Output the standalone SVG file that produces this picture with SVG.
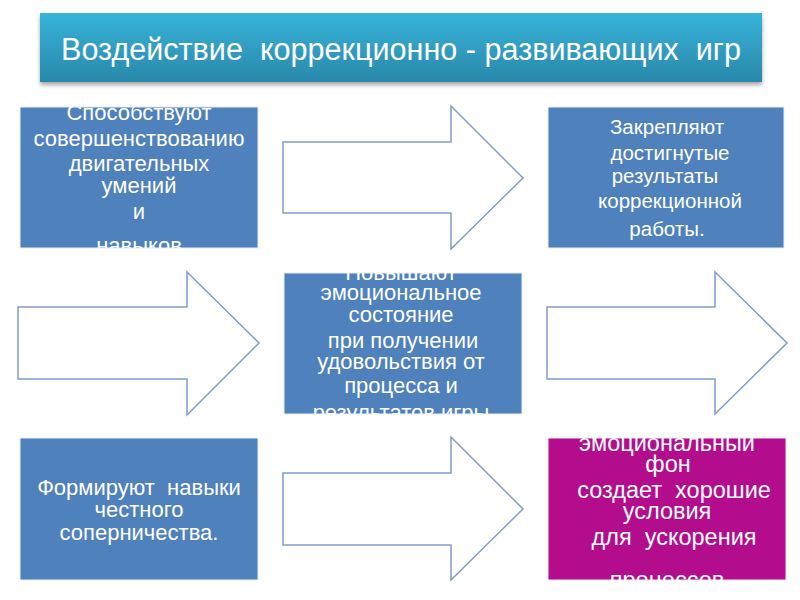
<svg xmlns="http://www.w3.org/2000/svg" width="800" height="600" viewBox="0 0 800 600">
<defs>
<linearGradient id="tg" x1="0" y1="0" x2="0" y2="1">
<stop offset="0" stop-color="#37B3DA"/>
<stop offset="1" stop-color="#2A88AA"/>
</linearGradient>
<filter id="sh" x="-5%" y="-20%" width="110%" height="150%">
<feGaussianBlur in="SourceAlpha" stdDeviation="2"/>
<feOffset dy="3"/>
<feComponentTransfer><feFuncA type="linear" slope="0.35"/></feComponentTransfer>
<feMerge><feMergeNode/><feMergeNode in="SourceGraphic"/></feMerge>
</filter>
<clipPath id="c1"><rect x="20" y="107" width="238" height="141"/></clipPath>
<clipPath id="c2"><rect x="548" y="107" width="236" height="141"/></clipPath>
<clipPath id="c3"><rect x="284" y="273" width="238" height="141"/></clipPath>
<clipPath id="c4"><rect x="20" y="438" width="238" height="142"/></clipPath>
<clipPath id="c5"><rect x="548" y="438" width="238" height="142"/></clipPath>
</defs>
<style>
.box{fill:#4F81BD;stroke:#E8EEF6;stroke-width:1}
.mag{fill:#B30D8E;stroke:#E8EEF6;stroke-width:1}
.t{font-family:"Liberation Sans",Arial,sans-serif;fill:#FFFFFF;text-anchor:middle;white-space:pre}
.s20{font-size:20.5px}
.s22{font-size:22px}
.s24{font-size:23.5px}
.arr{fill:#FFFFFF;stroke:#7F9CCB;stroke-width:1.5;stroke-linejoin:miter}
</style>
<rect width="800" height="600" fill="#FFFFFF"/>

<g id="title">
<rect x="40" y="13" width="722" height="69" fill="url(#tg)" filter="url(#sh)"/>
<text class="t" x="401" y="60" font-size="31" textLength="680" lengthAdjust="spacingAndGlyphs" xml:space="preserve">Воздействие  коррекционно - развивающих  игр</text>
</g>

<g id="connectors">
<polygon id="arrow1" class="arr" points="283,142 451,142 451,106 523,178 451,249 451,213 283,213"/>
<polygon id="arrow2" class="arr" points="18,307 187,307 187,272 259,343 187,415 187,379 18,379"/>
<polygon id="arrow3" class="arr" points="547,307 715,307 715,272 787,343 715,414 715,379 547,379"/>
<polygon id="arrow4" class="arr" points="283,473 451,473 451,437 523,509 451,580 451,545 283,545"/>
</g>

<g id="node1">
<rect class="box" x="20" y="107" width="238" height="141"/>
<g clip-path="url(#c1)" class="t s22">
<text x="139" y="120">Способствуют</text>
<text x="139" y="146">совершенствованию</text>
<text x="139" y="171">двигательных</text>
<text x="139" y="193">умений</text>
<text x="139" y="219">и</text>
<text x="139" y="253">навыков</text>
</g>
</g>

<g id="node2">
<rect class="box" x="548" y="107" width="236" height="141"/>
<g clip-path="url(#c2)" class="t s20">
<text x="667" y="134">Закрепляют</text>
<text x="670" y="160">достигнутые</text>
<text x="665" y="183">результаты</text>
<text x="670" y="208">коррекционной</text>
<text x="667" y="236">работы.</text>
</g>
</g>

<g id="node3">
<rect class="box" x="284" y="273" width="238" height="141"/>
<g clip-path="url(#c3)" class="t s22">
<text x="401" y="280">Повышают</text>
<text x="401" y="300">эмоциональное</text>
<text x="401" y="322">состояние</text>
<text x="403" y="348">при получении</text>
<text x="401" y="369">удовольствия от</text>
<text x="401" y="393">процесса и</text>
<text x="401" y="420">результатов игры</text>
</g>
</g>

<g id="node4">
<rect class="box" x="20" y="438" width="238" height="142"/>
<g clip-path="url(#c4)" class="t s22">
<text x="139" y="495" xml:space="preserve">Формируют  навыки</text>
<text x="139" y="517">честного</text>
<text x="139" y="540">соперничества.</text>
</g>
</g>

<g id="node5">
<rect class="mag" x="548" y="438" width="238" height="142"/>
<g clip-path="url(#c5)" class="t s24">
<text x="667" y="451">эмоциональный</text>
<text x="668" y="472">фон</text>
<text x="674" y="498" xml:space="preserve">создает  хорошие</text>
<text x="667" y="519">условия</text>
<text x="674" y="545" xml:space="preserve">для  ускорения</text>
<text x="667" y="588">процессов</text>
</g>
</g>
</svg>
